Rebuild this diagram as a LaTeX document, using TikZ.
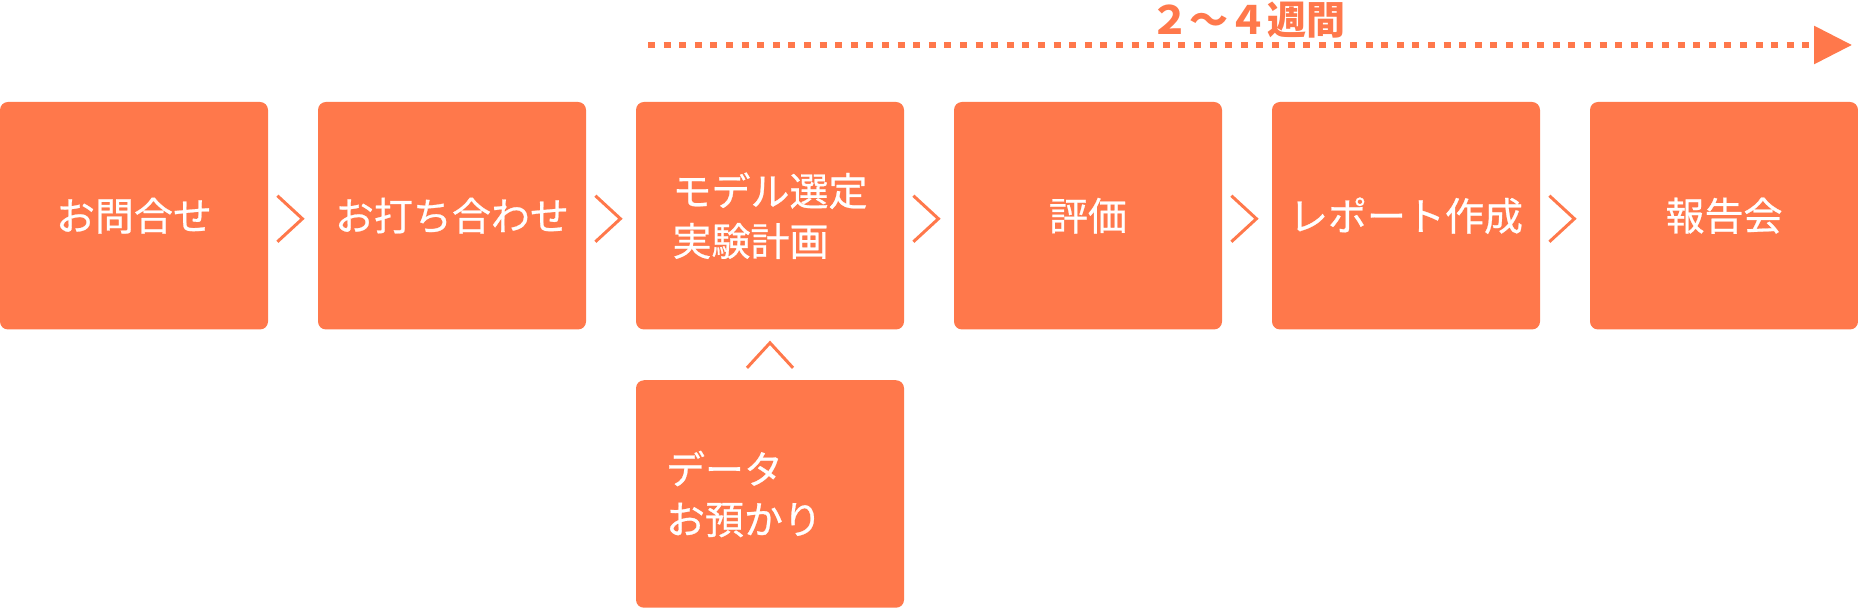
\documentclass[tikz,border=0pt]{standalone}
\usepackage{fontspec}
\setmainfont{Noto Sans CJK JP}
\newfontfamily\boxfont[FakeBold=0.6]{Noto Sans CJK JP}
\usepackage{xcolor}
\usetikzlibrary{arrows.meta,positioning,calc}
\definecolor{coral}{HTML}{FF784B}

\begin{document}
\begin{tikzpicture}[x=0.5pt,y=-0.5pt,
  stepbox/.style={rounded corners=4pt,fill=coral,text=white,minimum width=134pt,
                  minimum height=113.75pt,align=left,inner sep=0pt,
                  font=\boxfont\fontsize{19.5}{25}\selectfont},
  chev/.style={draw=coral,line width=1.5pt},
  span/.style={draw=coral,line width=3pt,dash pattern=on 3.5pt off 4.3pt,
               -{Triangle[length=19pt,width=18.5pt]}},
  lbl/.style={text=coral,inner sep=0pt,font=\fontsize{19.5}{20}\selectfont\bfseries}
]
\useasboundingbox (0,0) rectangle (1858,608);
\node[stepbox] (b1) at (134,215.75)  {お問合せ};
\node[stepbox] (b2) at (452,215.75)  {お打ち合わせ};
\node[stepbox] (b3) at (770,215.75)  {モデル選定\\実験計画};
\node[stepbox] (b4) at (1088,215.75) {評価};
\node[stepbox] (b5) at (1406,215.75) {レポート作成};
\node[stepbox] (b6) at (1724,215.75) {報告会};
\node[stepbox,text width=104pt] (b7) at (770,494) {データ\\お預かり};
\foreach \a in {b1,b2,b3,b4,b5}
  \draw[chev] ($(\a.east)+(9,-20)$) -- ++(25,23) -- ++(-25,23);
\draw[chev] ($(b7.north)+(-23,-12)$) -- ++(23,-25) -- ++(23,25);
% period
\coordinate (t0) at (648,45);
\coordinate (t1) at (1852,45);
\draw[span] (t0) -- (t1);
\node[lbl] (wk) at (1248,20) {２〜４週間};
\end{tikzpicture}
\end{document}
